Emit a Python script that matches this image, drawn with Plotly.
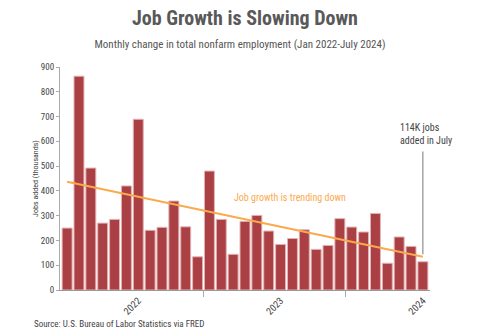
import plotly.graph_objects as go

# Monthly change in total nonfarm payrolls, thousands (Jan 2022 - Jul 2024)
months = [
    "2022-01", "2022-02", "2022-03", "2022-04", "2022-05", "2022-06",
    "2022-07", "2022-08", "2022-09", "2022-10", "2022-11", "2022-12",
    "2023-01", "2023-02", "2023-03", "2023-04", "2023-05", "2023-06",
    "2023-07", "2023-08", "2023-09", "2023-10", "2023-11", "2023-12",
    "2024-01", "2024-02", "2024-03", "2024-04", "2024-05", "2024-06",
    "2024-07",
]
jobs_added = [
    250, 863, 492, 270, 285, 420, 689, 241, 253, 359, 255, 134,
    480, 285, 144, 277, 301, 238, 184, 208, 243, 164, 180, 288,
    254, 234, 309, 108, 214, 176, 114,
]

# Linear trend endpoints (first and last month)
trend_months = ["2022-01", "2024-07"]
trend_values = [437, 134]

# Year labels sit mid-year; tick marks sit on year boundaries
year_labels = ["2022", "2023", "2024"]
year_label_months = ["2022-07", "2023-07", "2024-07"]
year_boundaries = [11.5, 23.5]

idx = {m: i for i, m in enumerate(months)}
x_bars = [idx[m] for m in months]

NARROW = "Roboto Condensed, DejaVu Sans Condensed, sans-serif"
BAR = "#aa3f44"
TREND = "#fba94c"
GREY = "#555555"

fig = go.Figure()

fig.add_trace(go.Bar(
    x=x_bars,
    y=jobs_added,
    marker=dict(color=BAR, line=dict(color="#e2b3b5", width=1)),
    width=0.84,
    hoverinfo="y",
))

fig.add_trace(go.Scatter(
    x=[idx[m] for m in trend_months],
    y=trend_values,
    mode="lines",
    line=dict(color=TREND, width=2),
    hoverinfo="skip",
))

# Trend label
fig.add_annotation(
    x=13.9, y=375, xref="x", yref="y",
    text="Job growth is trending down",
    showarrow=False, xanchor="left", yanchor="middle",
    font=dict(family=NARROW, size=10, color=TREND),
)

# Callout for the latest month
last = len(months) - 1
fig.add_annotation(
    x=last, y=jobs_added[last] + 30, xref="x", yref="y",
    ax=last, ay=565, axref="x", ayref="y",
    text="", showarrow=True, arrowhead=0, arrowwidth=1, arrowcolor="#777777",
)
fig.add_annotation(
    x=27.9, y=630, xref="x", yref="y",
    text="114K jobs<br>added in July",
    showarrow=False, align="left", xanchor="left", yanchor="middle",
    font=dict(family=NARROW, size=10, color="#444444"),
)

# Main heading
fig.add_annotation(
    x=0.5, y=1.0, xref="paper", yref="paper",
    xanchor="center", yanchor="bottom", yshift=35,
    text="<b>Job Growth is Slowing Down</b>",
    showarrow=False,
    font=dict(family=NARROW, size=20, color="#595959"),
)

# Source note
fig.add_annotation(
    x=-28 / 370, y=-34 / 223, xref="paper", yref="paper",
    text="Source: U.S. Bureau of Labor Statistics via FRED",
    showarrow=False, xanchor="left", yanchor="middle",
    font=dict(family=NARROW, size=9, color="#444444"),
)

fig.update_layout(
    width=480, height=336,
    margin=dict(l=60, r=50, t=67, b=46),
    paper_bgcolor="white", plot_bgcolor="white",
    showlegend=False,
    font=dict(family=NARROW, color=GREY),
    title=dict(
        text="Monthly change in total nonfarm employment (Jan 2022-July 2024)",
        x=0.5, xanchor="center", y=0.868, yanchor="middle",
        font=dict(family=NARROW, size=11, color="#555555"),
    ),
    xaxis=dict(
        range=[-0.6, 30.6],
        tickmode="array",
        tickvals=[idx[m] for m in year_label_months],
        ticktext=year_labels,
        tickangle=-45,
        ticks="",
        showgrid=False,
        showline=True, linecolor="#999999", linewidth=1,
        tickfont=dict(family=NARROW, size=10, color="#444444"),
        minor=dict(tickmode="array", tickvals=year_boundaries, ticks="outside",
                   ticklen=6, tickcolor="#aaaaaa", showgrid=False),
        zeroline=False,
    ),
    yaxis=dict(
        range=[0, 900],
        dtick=100,
        showgrid=False,
        showline=True, linecolor="#aaaaaa", linewidth=1,
        ticks="outside", ticklen=3, tickcolor="#aaaaaa",
        tickfont=dict(family=NARROW, size=9, color="#444444"),
        title=dict(text="Jobs added (thousands)", standoff=1,
                   font=dict(family=NARROW, size=8, color="#444444")),
        zeroline=False,
    ),
)

fig.write_html("out.html")
